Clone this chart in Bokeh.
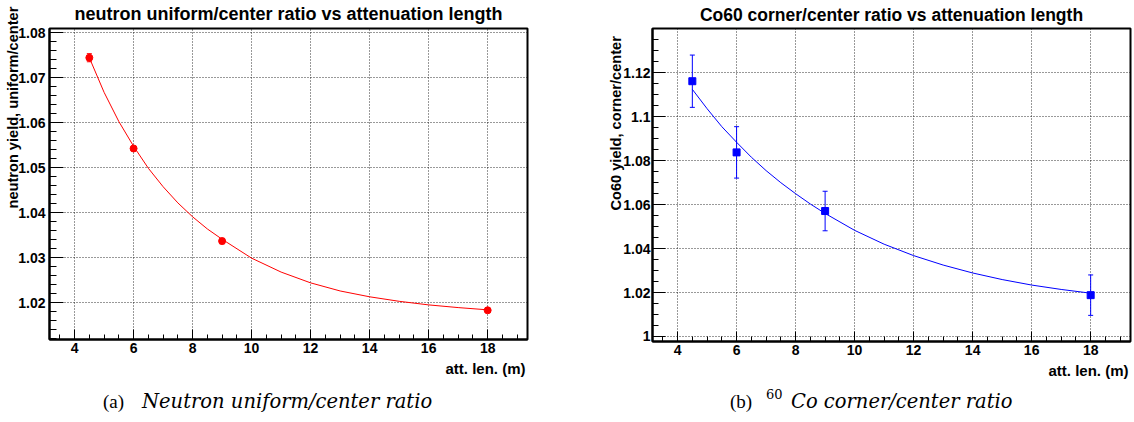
import math
from bokeh.plotting import figure
from bokeh.models import (FixedTicker, Whisker, TeeHead, ColumnDataSource,
                          Range1d, Title, Div)
from bokeh.layouts import row, column
from bokeh.embed import file_html
from bokeh.resources import INLINE

# ---------------- data ----------------
att_len = [4.5, 6.0, 9.0, 18.0]

neutron_ratio = [1.0745, 1.0543, 1.0337, 1.0183]
neutron_err = [0.0009, 0.0005, 0.0006, 0.0003]

co60_ratio = [1.1162, 1.0838, 1.0571, 1.0188]
co60_err = [0.0119, 0.0117, 0.0090, 0.0092]

fit_x = [4.5, 5.0, 5.5, 6.0, 6.5, 7.0, 7.5, 8.0, 8.5, 9.0,
         10.0, 11.0, 12.0, 13.0, 14.0, 15.0, 16.0, 17.0, 18.0]
neutron_fit = [1.0745, 1.0668, 1.0603, 1.0548, 1.0499, 1.0458, 1.0422, 1.0391,
               1.0364, 1.0341, 1.0299, 1.0268, 1.0244, 1.0226, 1.0213, 1.0203,
               1.0195, 1.0189, 1.0184]
co60_fit = [1.1125, 1.1037, 1.0955, 1.0884, 1.0816, 1.0755, 1.0700, 1.0650,
            1.0603, 1.0560, 1.0483, 1.0420, 1.0368, 1.0325, 1.0289, 1.0259,
            1.0234, 1.0214, 1.0197]

x_ticks = [4, 6, 8, 10, 12, 14, 16, 18]
x_labels = ["4", "6", "8", "10", "12", "14", "16", "18"]

neutron_y_ticks = [1.02, 1.03, 1.04, 1.05, 1.06, 1.07, 1.08]
neutron_y_labels = ["1.02", "1.03", "1.04", "1.05", "1.06", "1.07", "1.08"]

co60_y_ticks = [1.0, 1.02, 1.04, 1.06, 1.08, 1.1, 1.12]
co60_y_labels = ["1", "1.02", "1.04", "1.06", "1.08", "1.1", "1.12"]

titles = ["neutron uniform/center ratio vs attenuation length",
          "Co60 corner/center ratio vs attenuation length"]
y_titles = ["neutron yield, uniform/center", "Co60 yield, corner/center"]
x_title = "att. len. (m)"

SANS = "Liberation Sans"


def minor_list(lo, hi, step):
    n0 = math.ceil(lo / step - 1e-9)
    n1 = math.floor(hi / step + 1e-9)
    return [round(k * step, 6) for k in range(n0, n1 + 1)]


def make_panel(x, y, err, fx, fy, color, marker, yrange, yticks, ylabels,
               yminor_step, title, ytitle, frame_w, frame_h, bl, br, bb,
               ytick_len, ystand, title_size, title_so, ytitle_so, ytitle_off):
    p = figure(frame_width=frame_w, frame_height=frame_h,
               x_range=Range1d(3.15, 19.35), y_range=Range1d(*yrange),
               output_backend="svg", toolbar_location=None, title=None,
               min_border=0, min_border_left=bl, min_border_right=br,
               min_border_top=0, min_border_bottom=bb)
    p.background_fill_color = "white"
    p.border_fill_color = "white"
    p.outline_line_color = "black"
    p.outline_line_width = 2

    p.xaxis.ticker = FixedTicker(ticks=x_ticks,
                                 minor_ticks=minor_list(3.15, 19.35, 0.5))
    p.yaxis.ticker = FixedTicker(ticks=yticks,
                                 minor_ticks=minor_list(yrange[0], yrange[1],
                                                        yminor_step))
    p.xgrid.ticker = FixedTicker(ticks=x_ticks)
    p.ygrid.ticker = FixedTicker(ticks=yticks)
    p.xaxis.major_label_overrides = dict(zip(x_ticks, x_labels))
    p.yaxis.major_label_overrides = dict(zip(yticks, ylabels))

    for ax in (p.xaxis[0], p.yaxis[0]):
        ax.axis_line_width = 2
        ax.axis_line_color = "black"
        ax.major_tick_out = 0
        ax.minor_tick_out = 0
        ax.major_tick_line_color = "black"
        ax.minor_tick_line_color = "black"
        ax.major_label_text_font = SANS
        ax.major_label_text_font_style = "bold"
        ax.major_label_text_font_size = "14px"
        ax.major_label_text_color = "black"
    p.xaxis.major_tick_in = 10
    p.xaxis.minor_tick_in = 5
    p.yaxis.major_tick_in = ytick_len
    p.yaxis.minor_tick_in = ytick_len // 2
    p.xaxis.major_label_standoff = 3
    p.yaxis.major_label_standoff = ystand

    for g in (p.xgrid[0], p.ygrid[0]):
        g.grid_line_color = "black"
        g.grid_line_dash = "1 2"
        g.grid_line_width = 1
        g.grid_line_alpha = 0.8

    src = ColumnDataSource(dict(
        x=x, y=y,
        upper=[a + b for a, b in zip(y, err)],
        lower=[a - b for a, b in zip(y, err)]))
    p.line(fx, fy, line_color=color, line_width=1)
    p.add_layout(Whisker(source=src, base="x", upper="upper", lower="lower",
                         line_color=color, line_width=1,
                         upper_head=TeeHead(size=5, line_color=color, line_width=1),
                         lower_head=TeeHead(size=5, line_color=color, line_width=1)))
    p.scatter("x", "y", source=src, marker=marker, size=7,
              fill_color=color, line_color=color)

    p.add_layout(Title(text=title, align="center", vertical_align="top",
                       standoff=title_so, text_font=SANS,
                       text_font_style="bold", text_font_size=title_size,
                       text_color="black"), "above")
    p.add_layout(Title(text=ytitle, align="left", vertical_align="bottom",
                       offset=ytitle_off, standoff=ytitle_so, text_font=SANS,
                       text_font_style="bold", text_font_size="14.6px",
                       text_color="black"), "left")
    p.add_layout(Title(text=x_title, align="right", vertical_align="top",
                       offset=2, standoff=8, text_font=SANS,
                       text_font_style="bold", text_font_size="15px",
                       text_color="black"), "below")
    return p


p1 = make_panel(att_len, neutron_ratio, neutron_err, fit_x, neutron_fit,
                "#ff0000", "circle", (1.0118, 1.0810), neutron_y_ticks,
                neutron_y_labels, 0.002, titles[0], y_titles[0],
                478, 311, 49, 40, 46, 14, 4, "18px", 6.2, -11, 131)
p2 = make_panel(att_len, co60_ratio, co60_err, fit_x, co60_fit,
                "#0000ff", "square", (0.9977, 1.1402), co60_y_ticks,
                co60_y_labels, 0.005, titles[1], y_titles[1],
                478, 313, 85, 3, 46, 13, 2, "17.5px", 4.4, -6, 131)

cap_style = "position:absolute;top:7px;line-height:19px;"
cap_a = Div(width=567, height=37, margin=0, text=(
    '<div style="position:relative;height:37px;white-space:nowrap;">'
    '<span style="' + cap_style + 'left:103px;font-family:\'Liberation Serif\';'
    'font-size:19px;">(a)</span>'
    '<span style="' + cap_style + 'left:142px;font-family:\'DejaVu Serif\';'
    'font-style:italic;font-size:19.5px;">Neutron uniform/center ratio</span>'
    '</div>'))
cap_b = Div(width=566, height=37, margin=0, text=(
    '<div style="position:relative;height:37px;white-space:nowrap;">'
    '<span style="' + cap_style + 'left:163px;font-family:\'Liberation Serif\';'
    'font-size:19px;">(b)</span>'
    '<span style="position:absolute;top:3px;line-height:13px;left:199px;'
    'font-family:\'DejaVu Serif\';font-size:13px;">60</span>'
    '<span style="' + cap_style + 'left:224px;font-family:\'DejaVu Serif\';'
    'font-style:italic;font-size:19.5px;">Co corner/center ratio</span>'
    '</div>'))

layout = column(row(p1, p2, spacing=0), row(cap_a, cap_b, spacing=0), spacing=0)
open("out.html", "w").write(file_html(layout, INLINE))
